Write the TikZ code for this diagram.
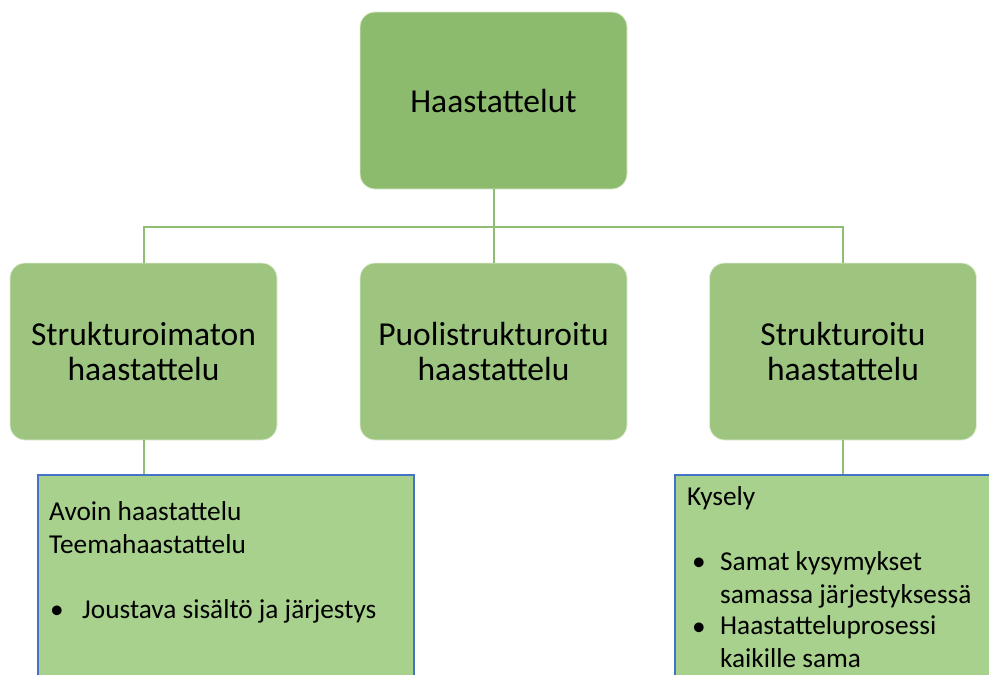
\documentclass[tikz,border=0pt]{standalone}
\usepackage{fontspec}
\setmainfont{Carlito}
\definecolor{topgreen}{HTML}{8DBB6E}
\definecolor{midgreen}{HTML}{9DC57F}
\definecolor{lowgreen}{HTML}{A9D18E}
\definecolor{linkgreen}{HTML}{8FBE72}
\definecolor{frameblue}{HTML}{4472C4}
\tikzset{
  topbox/.style={rectangle, rounded corners=15pt, fill=topgreen, draw=white!70!topgreen, line width=0.8pt,
    minimum width=267pt, minimum height=177pt, align=center, font=\fontsize{33.5}{35}\selectfont},
  midbox/.style={topbox, fill=midgreen, draw=white!70!midgreen},
  notebox/.style={rectangle, fill=lowgreen, draw=frameblue, line width=1.5pt, inner sep=0pt, anchor=north west},
  link/.style={draw=linkgreen, line width=2pt},
  notetext/.style={inner sep=0pt, anchor=base west, align=left, font=\fontsize{27.3}{32.5}\selectfont},
}
\begin{document}
\begin{tikzpicture}[x=1pt, y=-1pt]
  \clip (0,0) rectangle (989,675);
  \useasboundingbox (0,0) rectangle (989,675);

  % root and the three interview types
  \node[topbox] (root) at (493.5,100.5) {Haastattelut};
  \node[midbox] (unstruct) at (143.5,351.5) {Strukturoimaton\\haastattelu};
  \node[midbox] (semi) at (493.5,351.5) {Puolistrukturoitu\\haastattelu};
  \node[midbox] (struct) at (843,351.5) {Strukturoitu\\haastattelu};

  % description boxes (run past the lower edge)
  \node[notebox, minimum width=376pt, minimum height=240pt] (unnote) at (37,474) {};
  \node[notebox, minimum width=330pt, minimum height=240pt] (stnote) at (674,474) {};

  % tree connectors
  \coordinate (fork) at (493.5,227);
  \draw[link] (root.south) -- (semi.north);
  \draw[link] (fork) -| (unstruct.north);
  \draw[link] (fork) -| (struct.north);
  \draw[link] (unstruct.south) -- (unnote.north -| unstruct.south);
  \draw[link] (struct.south) -- (stnote.north -| struct.south);

  % text of the left description box (anchored at the last line's baseline)
  \node[notetext] (untitle) at (49,553) {Avoin haastattelu\\Teemahaastattelu};
  \node[notetext] (unbullet) at (50,618) {•};
  \node[notetext] (unitem) at (82,618) {Joustava sisältö ja järjestys};

  % text of the right description box
  \node[notetext] (sttitle) at (687,505) {Kysely};
  \node[notetext] (stbulleta) at (692,570) {•};
  \node[notetext] (stitema) at (720,603) {Samat kysymykset\\samassa järjestyksessä};
  \node[notetext] (stbulletb) at (692,635) {•};
  \node[notetext] (stitemb) at (720,667) {Haastatteluprosessi\\kaikille sama};
\end{tikzpicture}
\end{document}
